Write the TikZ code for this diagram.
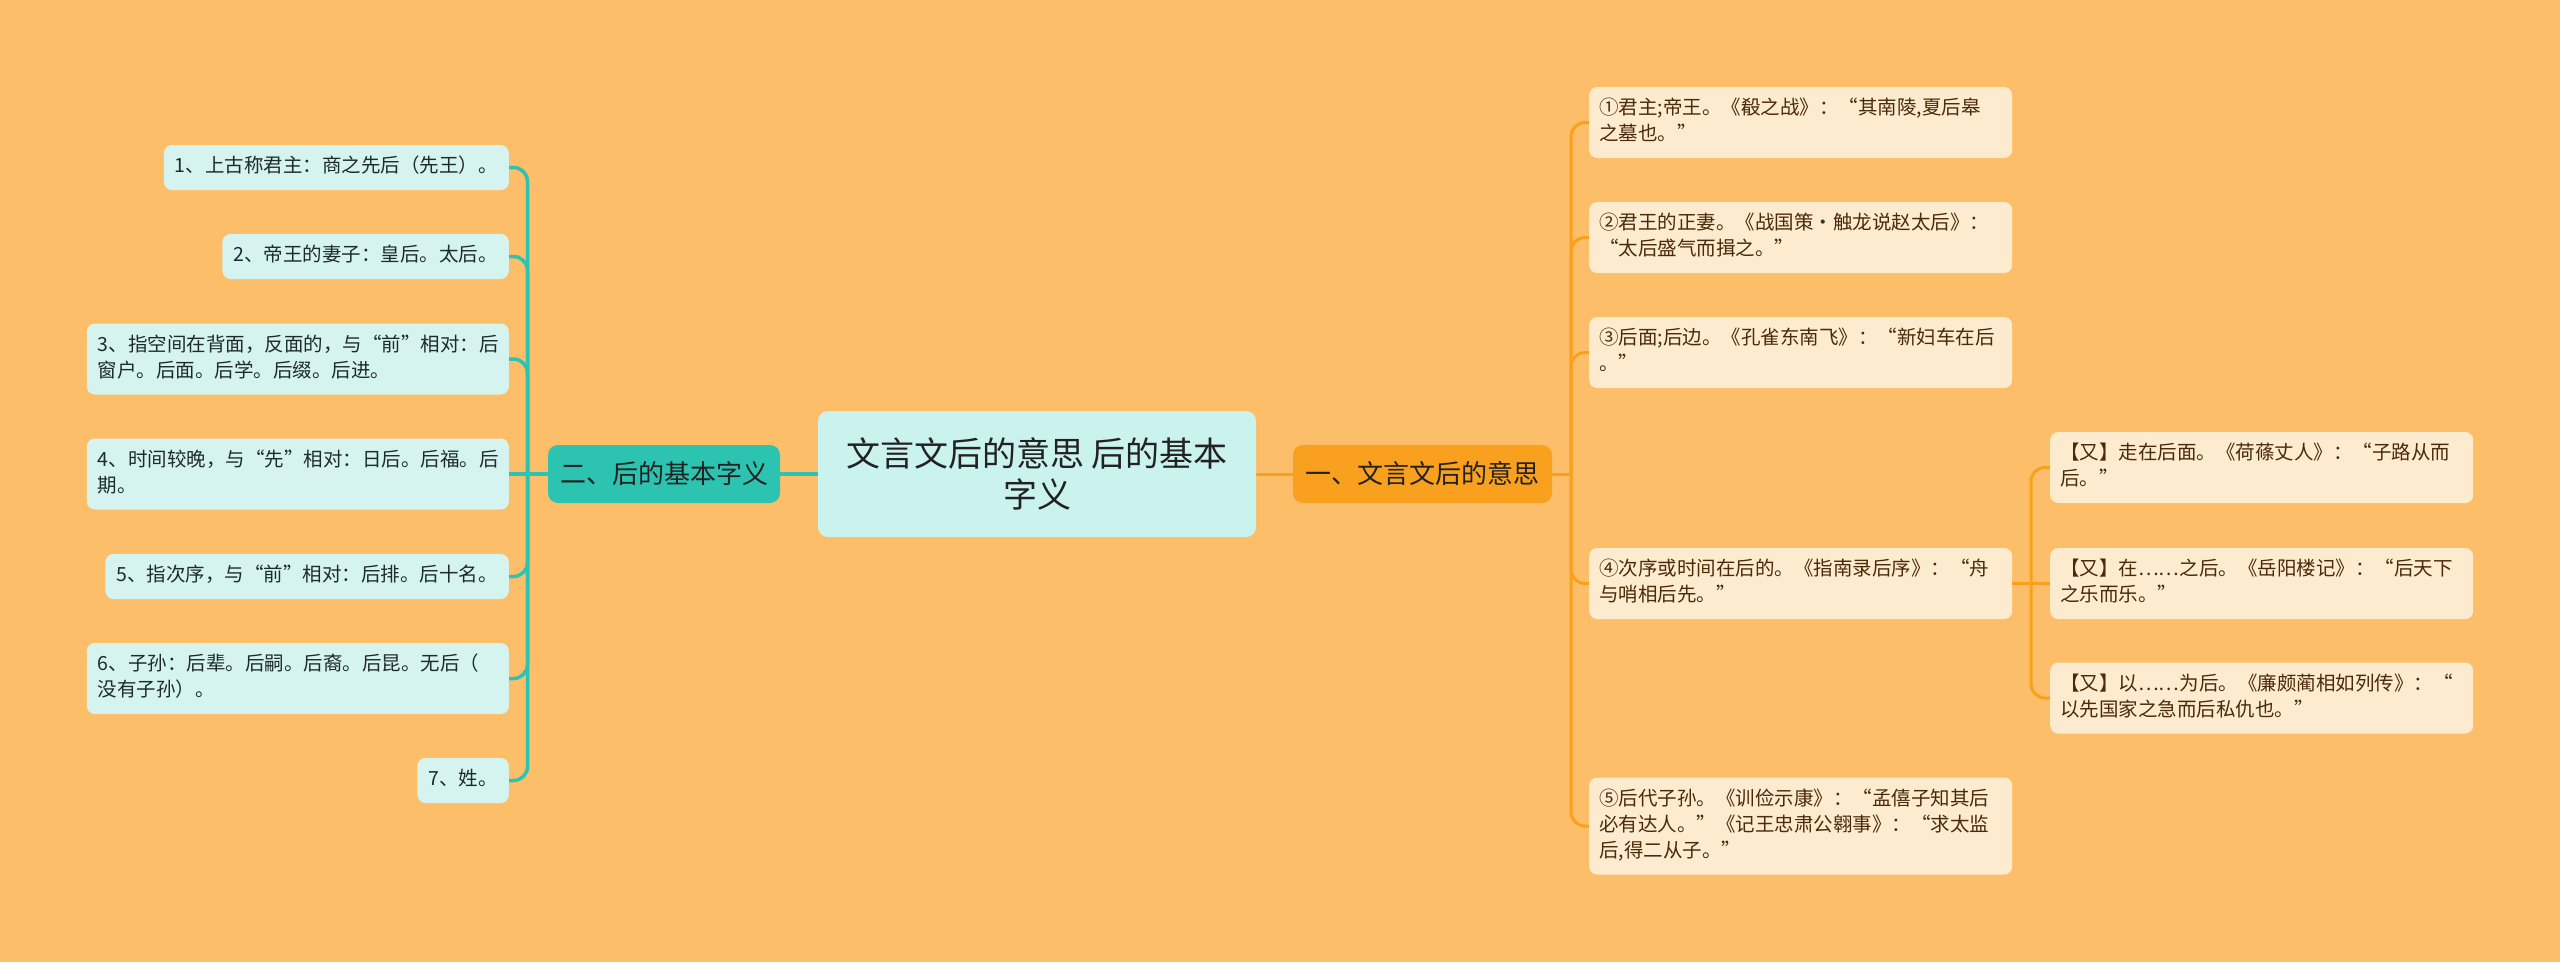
\documentclass[tikz,border=0pt]{standalone}
\usepackage{fontspec}
\setmainfont{Noto Sans CJK SC}
\definecolor{bg}{HTML}{FDBE69}
\definecolor{leafLfill}{HTML}{D5F3EF}
\definecolor{centerfill}{HTML}{CBF3EE}
\definecolor{tealc}{HTML}{2DC3B1}
\definecolor{orangec}{HTML}{F9A11E}
\definecolor{leafRfill}{HTML}{FDEBD0}
\definecolor{leafLtext}{HTML}{1E2B2A}
\definecolor{leafRtext}{HTML}{4A2A08}
\definecolor{darktext}{HTML}{222222}
\begin{document}
\begin{tikzpicture}[x=1pt,y=-1pt,
  leafL/.style={fill=leafLfill, rounded corners=8pt, align=left, inner xsep=11pt, inner ysep=9.5pt,
    font=\fontsize{19.5}{26}\selectfont, text=leafLtext, anchor=east},
  leafLwide/.style={leafL, text width=400pt},
  leafR/.style={fill=leafRfill, rounded corners=8pt, align=left, text width=403pt, inner xsep=10pt, inner ysep=9.5pt,
    font=\fontsize{19.5}{26}\selectfont, text=leafRtext, anchor=west},
  centerbox/.style={fill=centerfill, rounded corners=10pt, align=center, minimum width=438pt, minimum height=126pt,
    font=\fontsize{34}{41}\selectfont, text=darktext},
  branchL/.style={fill=tealc, rounded corners=10pt, minimum width=232pt, minimum height=58pt,
    font=\fontsize{26}{30}\selectfont, text=darktext, inner sep=0pt},
  branchR/.style={fill=orangec, rounded corners=10pt, minimum width=259pt, minimum height=58pt,
    font=\fontsize{26}{30}\selectfont, text=darktext, inner sep=0pt},
  tline/.style={draw=tealc, line width=3.5pt},
  oline/.style={draw=orangec, line width=3pt},
]
\useasboundingbox (0,0) rectangle (2560,962);
\fill[bg] (0,0) rectangle (2560,962);

% connector junctions
\coordinate (lt) at (527.5,474);
\coordinate (rt) at (1571,474);
\coordinate (st) at (2031,583.5);

% centre and branches
\node[centerbox] (C) at (1037,474) {文言文后的意思 后的基本\\字义};
\node[branchL] (B2) at (664,474) {二、后的基本字义};
\node[branchR] (B1) at (1422.5,474) {一、文言文后的意思};

% left leaves
\node[leafL] (L1) at (509,167.5) {\strut 1、上古称君主：商之先后（先王）。};
\node[leafL] (L2) at (509,256.5) {\strut 2、帝王的妻子：皇后。太后。};
\node[leafLwide] (L3) at (509,359) {\strut 3、指空间在背面，反面的，与“前”相对：后\\\strut 窗户。后面。后学。后缀。后进。};
\node[leafLwide] (L4) at (509,474) {\strut 4、时间较晚，与“先”相对：日后。后福。后\\\strut 期。};
\node[leafL] (L5) at (509,576.5) {\strut 5、指次序，与“前”相对：后排。后十名。};
\node[leafLwide] (L6) at (509,678.5) {\strut 6、子孙：后辈。后嗣。后裔。后昆。无后（\\\strut 没有子孙）。};
\node[leafL] (L7) at (509,780.5) {\strut 7、姓。};

% right leaves
\node[leafR] (R1) at (1589,122.5) {\strut ①君主;帝王。《殽之战》：“其南陵,夏后皋\\\strut 之墓也。”};
\node[leafR] (R2) at (1589,237.5) {\strut ②君王的正妻。《战国策·触龙说赵太后》：\\\strut “太后盛气而揖之。”};
\node[leafR] (R3) at (1589,352.5) {\strut ③后面;后边。《孔雀东南飞》：“新妇车在后\\\strut 。”};
\node[leafR] (R4) at (1589,583.5) {\strut ④次序或时间在后的。《指南录后序》：“舟\\\strut 与哨相后先。”};
\node[leafR] (R5) at (1589,826) {\strut ⑤后代子孙。《训俭示康》：“孟僖子知其后\\\strut 必有达人。”《记王忠肃公翱事》：“求太监\\\strut 后,得二从子。”};

% sub leaves of R4
\node[leafR] (S1) at (2050,467.5) {\strut 【又】走在后面。《荷蓧丈人》：“子路从而\\\strut 后。”};
\node[leafR] (S2) at (2050,583.5) {\strut 【又】在……之后。《岳阳楼记》：“后天下\\\strut 之乐而乐。”};
\node[leafR] (S3) at (2050,698) {\strut 【又】以……为后。《廉颇蔺相如列传》：“\\\strut 以先国家之急而后私仇也。”};

% connectors: left side
\draw[tline] (C.west) -- (B2.east);
\draw[tline] (B2.west) -- (lt);
\draw[tline] (L4.east) -- (lt);
\foreach \n in {L1,L2,L3,L5,L6,L7}
  \draw[tline, rounded corners=14pt] (\n.east) -| (lt);

% connectors: right side
\draw[oline] (C.east) -- (B1.west);
\draw[oline] (B1.east) -- (rt);
\foreach \n in {R1,R2,R3,R4,R5}
  \draw[oline, rounded corners=14pt] (\n.west) -| (rt);

% connectors: sub branch
\draw[oline] (R4.east) -- (st);
\draw[oline] (S2.west) -- (st);
\foreach \n in {S1,S3}
  \draw[oline, rounded corners=14pt] (\n.west) -| (st);
\end{tikzpicture}
\end{document}
